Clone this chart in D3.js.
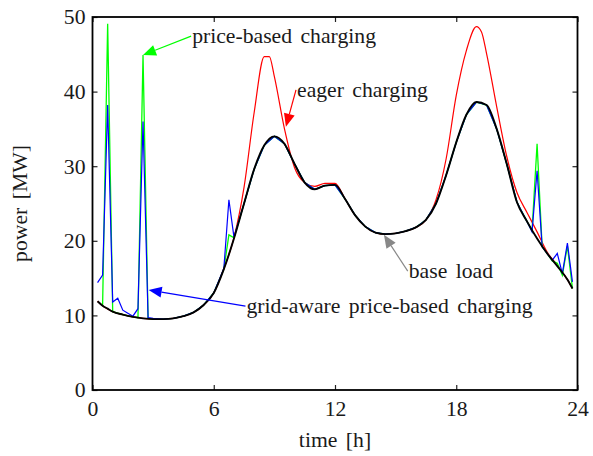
<!DOCTYPE html>
<html>
<head>
<meta charset="utf-8">
<script src="https://cdn.jsdelivr.net/npm/d3@7"></script>
<style>
  body { margin: 0; background: #fff; }
  svg text { font-family: "Liberation Serif", "Times New Roman", serif; fill: #1a1a1a; }
</style>
</head>
<body>
<div id="target"></div>
<script>
// values: [hour, MW]
const baseLoad = [[0.25, 11.9], [0.5, 11.3], [0.75, 10.9], [1, 10.5], [1.5, 10.1], [2, 9.8], [2.5, 9.6], [3, 9.5], [3.5, 9.5], [4, 9.6], [4.5, 9.9], [5, 10.4], [5.5, 11.4], [6, 13.0], [6.5, 16.2], [7, 20.3], [7.5, 25.0], [8, 29.6], [8.5, 32.8], [9, 34.0], [9.5, 33.0], [10, 30.3], [10.5, 27.8], [11, 26.9], [11.5, 27.4], [12, 27.5], [12.5, 25.6], [13, 23.4], [13.5, 21.9], [14, 21.1], [14.5, 20.9], [15, 21.0], [15.5, 21.3], [16, 21.8], [16.5, 22.8], [17, 25.0], [17.5, 28.8], [18, 33.2], [18.5, 36.9], [19, 38.6], [19.5, 38.2], [20, 35.0], [20.5, 30.3], [21, 25.2], [21.5, 22.6], [22, 20.3], [22.5, 18.3], [23, 16.6], [23.5, 14.8], [23.75, 13.6]];

const eager = [[0.25, 11.9], [0.5, 11.3], [1, 10.5], [1.5, 10.1], [2, 9.8], [2.5, 9.6], [3, 9.5], [3.5, 9.5], [4, 9.6], [4.5, 9.9], [5, 10.4], [5.5, 11.4], [6, 13.0], [6.5, 16.3], [7, 20.4], [7.5, 27.2], [8, 37.2], [8.5, 44.7], [8.75, 44.7], [9, 42.0], [9.5, 35.0], [10, 29.8], [10.5, 27.8], [11, 27.3], [11.5, 27.7], [12, 27.7], [12.5, 25.6], [13, 23.4], [13.5, 21.9], [14, 21.1], [14.5, 20.9], [15, 21.0], [15.5, 21.3], [16, 21.8], [16.5, 22.8], [17, 25.5], [17.5, 31.0], [18, 39.5], [18.5, 45.5], [19, 48.7], [19.25, 48.0], [19.5, 45.1], [20, 38.0], [20.5, 31.3], [21, 26.5], [21.5, 23.8], [22, 21.2], [22.5, 18.5], [23, 16.7], [23.5, 14.8], [23.75, 13.6]];

const priceBased = [[0.5, 11.3], [0.75, 49.1], [1, 10.5], [1.5, 10.1], [2, 9.8], [2.25, 9.7], [2.5, 44.9], [2.75, 9.6], [3, 9.5], [3.5, 9.5], [4, 9.6], [4.5, 9.9], [5, 10.4], [5.5, 11.4], [6, 13.0], [6.5, 16.2], [6.75, 20.8], [7, 20.4], [7.5, 25.0], [8, 29.6], [8.5, 32.8], [9, 34.0], [9.5, 33.0], [10, 30.3], [10.5, 27.8], [11, 26.9], [11.5, 27.4], [12, 27.5], [12.5, 25.6], [13, 23.4], [13.5, 21.9], [14, 21.1], [14.5, 20.9], [15, 21.0], [15.5, 21.3], [16, 21.8], [16.5, 22.8], [17, 25.0], [17.5, 28.8], [18, 33.2], [18.5, 36.9], [19, 38.6], [19.5, 38.2], [20, 35.0], [20.5, 30.3], [21, 25.2], [21.5, 22.6], [21.75, 21.3], [22, 33.0], [22.25, 19.2], [22.5, 18.3], [22.75, 17.3], [23, 17.0], [23.25, 15.4], [23.5, 19.3], [23.75, 13.6]];

const gridAware = [[0.25, 14.4], [0.5, 15.4], [0.75, 38.2], [1, 11.8], [1.25, 12.3], [1.5, 10.7], [1.75, 10.3], [2, 9.9], [2.25, 10.9], [2.5, 36.0], [2.75, 9.7], [3, 9.6], [3.5, 9.5], [4, 9.6], [4.5, 9.9], [5, 10.4], [5.5, 11.4], [6, 13.0], [6.5, 16.3], [6.75, 25.5], [7, 20.5], [7.5, 25.0], [8, 29.6], [8.5, 32.8], [9, 34.0], [9.5, 33.0], [10, 30.3], [10.5, 27.8], [11, 26.9], [11.5, 27.4], [12, 27.5], [12.5, 25.6], [13, 23.4], [13.5, 21.9], [14, 21.1], [14.5, 20.9], [15, 21.0], [15.5, 21.3], [16, 21.8], [16.5, 22.8], [17, 25.0], [17.5, 28.8], [18, 33.2], [18.5, 36.9], [19, 38.6], [19.5, 38.2], [20, 35.0], [20.5, 30.3], [21, 25.2], [21.5, 22.6], [21.75, 21.2], [22, 29.4], [22.25, 19.2], [22.5, 18.3], [22.75, 17.4], [23, 18.3], [23.25, 15.6], [23.5, 19.7], [23.75, 14.5]];

const xTicks = [0, 6, 12, 18, 24];
const yTicks = [0, 10, 20, 30, 40, 50];

// annotations: label, text anchor [h, MW], arrow tip [h, MW]
const notes = [
  {label: "price-based charging", at: [4.93, 46.5], tip: [2.5, 44.9], color: "#00ff00"},
  {label: "eager charging", at: [10.12, 39.3], tip: [9.57, 35.3], color: "#ff0000"},
  {label: "base load", at: [15.65, 15.0], tip: [14.42, 20.8], color: "#888888"},
  {label: "grid-aware price-based charging", at: [7.62, 10.3], tip: [2.78, 13.4], color: "#0000ff"}
];

const W = 593, H = 456;
const margin = {top: 17, right: 15.5, bottom: 66, left: 92.5},
  width = W - margin.left - margin.right,
  height = H - margin.top - margin.bottom;

let svg = d3.select("#target").append("svg")
  .attr("width", W)
  .attr("height", H);

let x = d3.scaleLinear().domain([0, 24]).range([0, width]);
let y = d3.scaleLinear().domain([0, 50]).range([height, 0]);

let g = svg.append("g").attr("transform", `translate(${margin.left},${margin.top})`);

const fs = 21.7;
const serif = '"Liberation Serif", "Times New Roman", serif';

let line = d3.line().x(d => x(d[0])).y(d => y(d[1]));
let smooth = d3.line().x(d => x(d[0])).y(d => y(d[1])).curve(d3.curveMonotoneX);

g.append("path").datum(eager).attr("d", smooth)
  .attr("fill", "none").attr("stroke", "#ff0000").attr("stroke-width", 1.2);
g.append("path").datum(priceBased).attr("d", line)
  .attr("fill", "none").attr("stroke", "#00ff00").attr("stroke-width", 1.3);
g.append("path").datum(gridAware).attr("d", line)
  .attr("fill", "none").attr("stroke", "#0000ff").attr("stroke-width", 1.2);
g.append("path").datum(baseLoad).attr("d", smooth)
  .attr("fill", "none").attr("stroke", "#000").attr("stroke-width", 1.9);

// axes, ticks pointing inward
let ax = g.append("g").attr("transform", `translate(0,${height})`)
  .call(d3.axisBottom(x).tickValues(xTicks).tickSize(-5).tickPadding(11).tickFormat(d3.format("d")));
let axTop = g.append("g")
  .call(d3.axisTop(x).tickValues(xTicks).tickSize(-5).tickFormat(""));
let ay = g.append("g")
  .call(d3.axisLeft(y).tickValues(yTicks).tickSize(-5).tickPadding(7).tickFormat(d3.format("d")));
let ayRight = g.append("g").attr("transform", `translate(${width},0)`)
  .call(d3.axisRight(y).tickValues(yTicks).tickSize(-5).tickFormat(""));

[ax, axTop, ay, ayRight].forEach(a => {
  a.attr("font-family", serif);
  a.select(".domain").remove();
  a.selectAll("line").attr("stroke", "#222").attr("stroke-width", 1.2);
  a.selectAll("text").attr("font-size", fs).attr("fill", "#1a1a1a")
    .style("font-family", serif);
});

g.append("rect").attr("width", width).attr("height", height)
  .attr("fill", "none").attr("stroke", "#000").attr("stroke-width", 1.8);

// axis titles
g.append("text").attr("x", width / 2).attr("y", height + 57)
  .attr("text-anchor", "middle").attr("font-size", fs)
  .style("font-family", serif).style("word-spacing", "3px")
  .text("time [h]");
svg.append("text")
  .attr("transform", `translate(27,${margin.top + height / 2}) rotate(-90)`)
  .attr("text-anchor", "middle").attr("font-size", fs)
  .style("font-family", serif).style("word-spacing", "3px")
  .text("power [MW]");

// annotations with arrows
notes.forEach(n => {
  let tx = x(n.at[0]), ty = y(n.at[1]);
  let sx = tx - 1, sy = ty - 7;
  let px = x(n.tip[0]), py = y(n.tip[1]);
  let ang = Math.atan2(py - sy, px - sx);
  let len = 13, half = 5.5;
  let bx = px - len * Math.cos(ang), by = py - len * Math.sin(ang);
  g.append("line").attr("x1", sx).attr("y1", sy).attr("x2", bx).attr("y2", by)
    .attr("stroke", n.color).attr("stroke-width", 1.2);
  let pts = [[px, py],
    [bx + half * Math.sin(ang), by - half * Math.cos(ang)],
    [bx - half * Math.sin(ang), by + half * Math.cos(ang)]];
  g.append("polygon").attr("points", pts.map(p => p.join(",")).join(" "))
    .attr("fill", n.color);
  g.append("text").attr("x", tx).attr("y", ty)
    .attr("font-size", fs)
    .style("font-family", serif).style("word-spacing", "3px")
    .text(n.label);
});
</script>
</body>
</html>
